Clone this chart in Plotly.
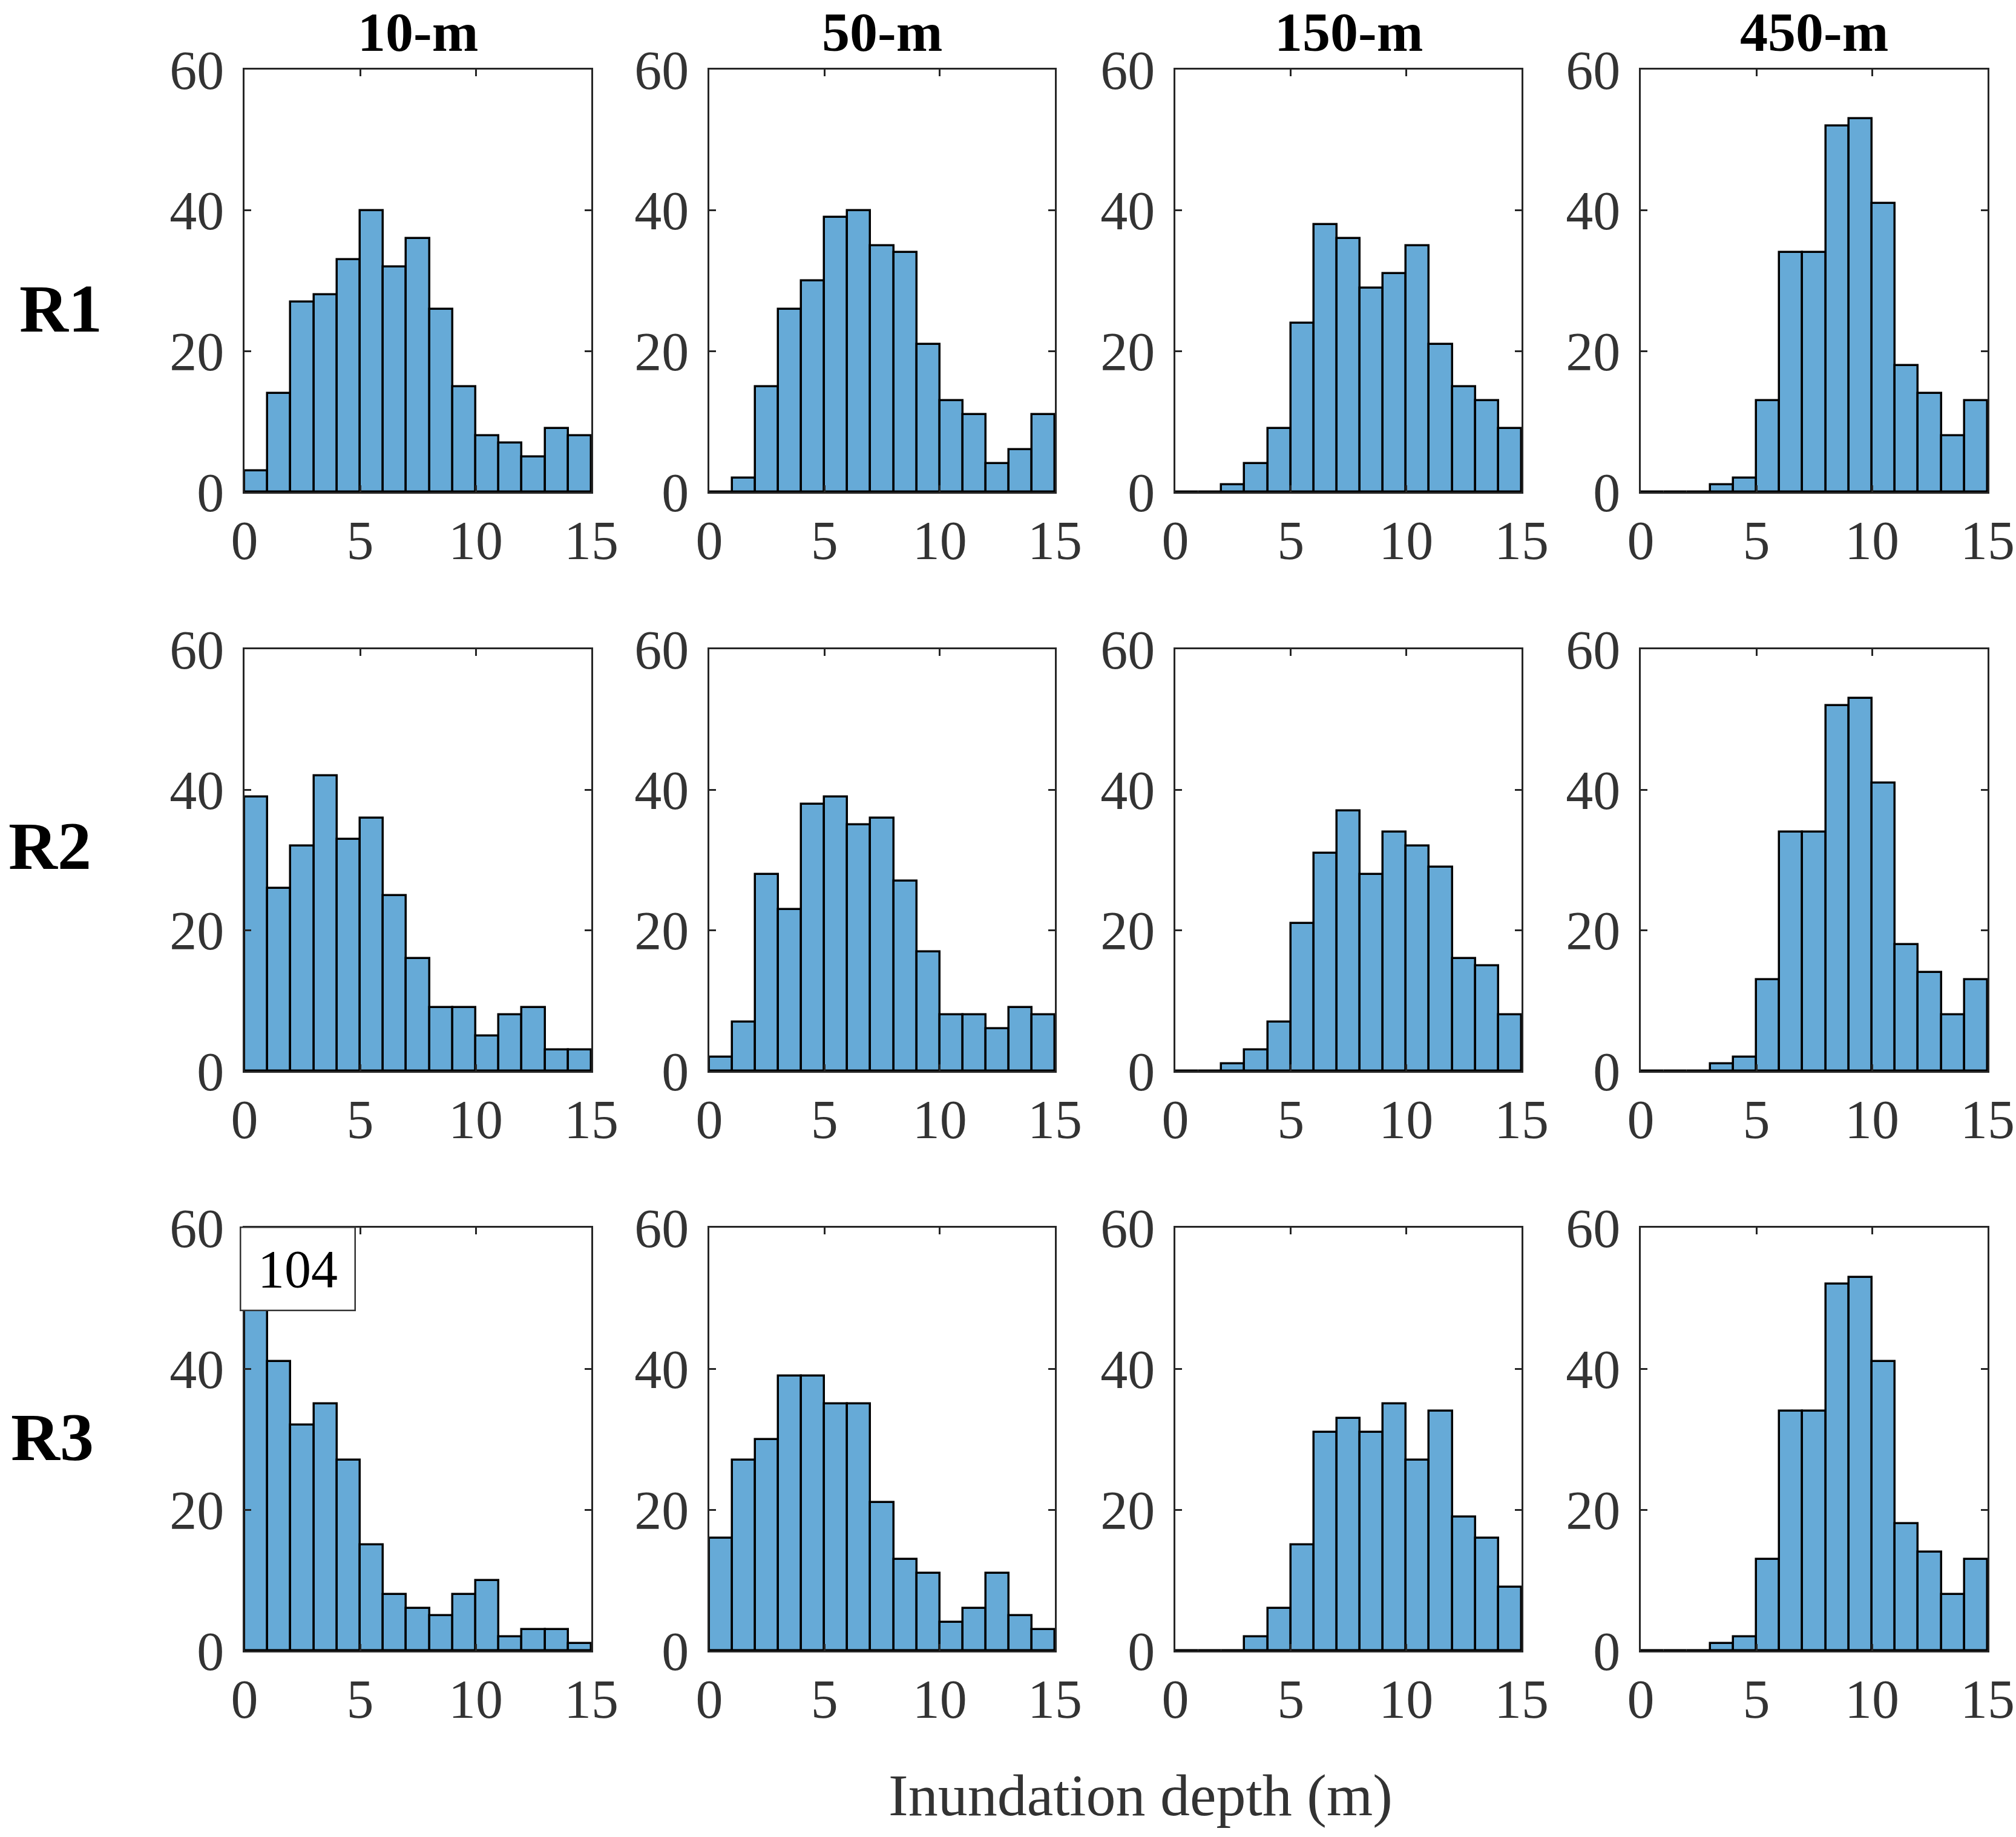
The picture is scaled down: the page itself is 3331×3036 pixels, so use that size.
from plotly.subplots import make_subplots
import plotly.graph_objects as go

bin_centers = [0.5, 1.5, 2.5, 3.5, 4.5, 5.5, 6.5, 7.5, 8.5, 9.5, 10.5, 11.5, 12.5, 13.5, 14.5]
col_titles = ['10-m', '50-m', '150-m', '450-m']
row_titles = ['R1', 'R2', 'R3']

r1_10m = [3, 14, 27, 28, 33, 40, 32, 36, 26, 15, 8, 7, 5, 9, 8]
r1_50m = [0, 2, 15, 26, 30, 39, 40, 35, 34, 21, 13, 11, 4, 6, 11]
r1_150m = [0, 0, 1, 4, 9, 24, 38, 36, 29, 31, 35, 21, 15, 13, 9]
r1_450m = [0, 0, 0, 1, 2, 13, 34, 34, 52, 53, 41, 18, 14, 8, 13]

r2_10m = [39, 26, 32, 42, 33, 36, 25, 16, 9, 9, 5, 8, 9, 3, 3]
r2_50m = [2, 7, 28, 23, 38, 39, 35, 36, 27, 17, 8, 8, 6, 9, 8]
r2_150m = [0, 0, 1, 3, 7, 21, 31, 37, 28, 34, 32, 29, 16, 15, 8]
r2_450m = [0, 0, 0, 1, 2, 13, 34, 34, 52, 53, 41, 18, 14, 8, 13]

r3_10m = [104, 41, 32, 35, 27, 15, 8, 6, 5, 8, 10, 2, 3, 3, 1]
r3_50m = [16, 27, 30, 39, 39, 35, 35, 21, 13, 11, 4, 6, 11, 5, 3]
r3_150m = [0, 0, 0, 2, 6, 15, 31, 33, 31, 35, 27, 34, 19, 16, 9]
r3_450m = [0, 0, 0, 1, 2, 13, 34, 34, 52, 53, 41, 18, 14, 8, 13]

x_ticks = [0, 5, 10, 15]
y_ticks = [0, 20, 40, 60]

W, H = 3331, 3036
FONT = 'Liberation Serif'
BAR_COLOR = '#66aad7'
AXIS_COLOR = '#262626'


def main():
    grid = [
        [r1_10m, r1_50m, r1_150m, r1_450m],
        [r2_10m, r2_50m, r2_150m, r2_450m],
        [r3_10m, r3_50m, r3_150m, r3_450m],
    ]
    # panel boxes in pixels (left, right) and (top, bottom)
    col_px = [(404, 977), (1172, 1743), (1942, 2514), (2711, 3284)]
    row_px = [(115, 813), (1073, 1770), (2029, 2728)]

    fig = make_subplots(rows=3, cols=4)

    for r in range(3):
        for c in range(4):
            fig.add_trace(
                go.Bar(
                    x=bin_centers,
                    y=grid[r][c],
                    width=1,
                    marker=dict(color=BAR_COLOR, line=dict(color='black', width=3.5)),
                    showlegend=False,
                ), row=r + 1, col=c + 1
            )
            fig.update_xaxes(
                domain=[col_px[c][0] / W, col_px[c][1] / W],
                range=[0, 15], tickvals=x_ticks, row=r + 1, col=c + 1
            )
            fig.update_yaxes(
                domain=[1 - row_px[r][1] / H, 1 - row_px[r][0] / H],
                range=[0, 60], tickvals=y_ticks, row=r + 1, col=c + 1
            )

    axis_style = dict(
        showline=True, linecolor=AXIS_COLOR, linewidth=2.5, mirror='allticks',
        ticks='inside', ticklen=11, tickwidth=2.5, tickcolor=AXIS_COLOR,
        showgrid=False, zeroline=False, automargin=False,
        tickfont=dict(family=FONT, size=90, color='#333333'),
    )
    fig.update_xaxes(**axis_style, ticklabelstandoff=0)
    fig.update_yaxes(**axis_style, ticklabelstandoff=13)

    # column titles
    for c, t in enumerate(col_titles):
        fig.add_annotation(
            x=(col_px[c][0] + col_px[c][1]) / 2 / W, y=1,
            xref='paper', yref='paper', text='<b>%s</b>' % t, showarrow=False,
            font=dict(family=FONT, size=92, color='black'),
            xanchor='center', yanchor='top'
        )

    # row labels
    row_pos = [(100, 510), (82, 1398), (86, 2375)]
    for (px, py), t in zip(row_pos, row_titles):
        fig.add_annotation(
            x=px / W, y=1 - py / H, xref='paper', yref='paper',
            text='<b>%s</b>' % t, showarrow=False,
            font=dict(family=FONT, size=112, color='black'),
            xanchor='center', yanchor='middle'
        )

    # clipped first bar count
    fig.add_annotation(
        x=2.3, y=54.2, xref='x9', yref='y9', text='104', showarrow=False,
        font=dict(family=FONT, size=88, color='black'),
        bgcolor='white', bordercolor='#333333', borderwidth=2.5,
        width=155, height=103, borderpad=16,
        xanchor='center', yanchor='middle'
    )

    fig.add_annotation(
        x=1884 / W, y=1 - 2967 / H, xref='paper', yref='paper',
        text='Inundation depth (m)', showarrow=False,
        font=dict(family=FONT, size=98, color='#333333'),
        xanchor='center', yanchor='middle'
    )

    layout = go.Layout(
        width=W, height=H, autosize=False,
        margin=dict(l=0, r=0, t=0, b=0, pad=0, autoexpand=False),
        plot_bgcolor='white', paper_bgcolor='white',
        bargap=0,
        font_family=FONT,
    )
    fig.update_layout(layout)
    fig.write_html(
        'out.html',
        config={'displayModeBar': False},
        post_script="document.body.style.margin='0px';"
    )


if __name__ == '__main__':
    main()
